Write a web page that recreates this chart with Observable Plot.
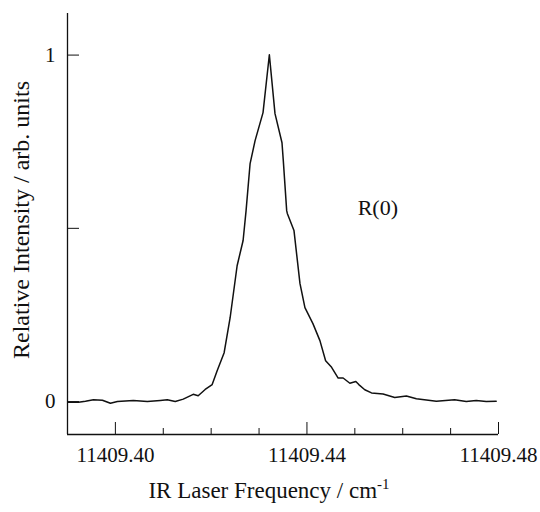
<!DOCTYPE html>
<html>
<head>
<meta charset="utf-8">
<script src="https://cdn.jsdelivr.net/npm/d3@7"></script>
<script src="https://cdn.jsdelivr.net/npm/@observablehq/plot@0.6"></script>
<style>
  html, body { margin: 0; padding: 0; background: #fff; }
  #chart { width: 540px; height: 512px; }
</style>
</head>
<body>
<div id="chart"></div>
<script>
// ---- data ----
const frequency = [
  11409.39006, 11409.39229, 11409.39375, 11409.39542, 11409.39729, 11409.39896,
  11409.40042, 11409.40375, 11409.40667, 11409.40938, 11409.41083, 11409.41250,
  11409.41417, 11409.41625, 11409.41729, 11409.41875, 11409.42021, 11409.42125,
  11409.42271, 11409.42396, 11409.42542, 11409.42667, 11409.42729, 11409.42813,
  11409.42917, 11409.43083, 11409.43215, 11409.43333, 11409.43479, 11409.43506,
  11409.43577, 11409.43590, 11409.43729, 11409.43854, 11409.43958, 11409.44125,
  11409.44271, 11409.44390, 11409.44515, 11409.44652, 11409.44756, 11409.44896,
  11409.45021, 11409.45083, 11409.45208, 11409.45348, 11409.45590, 11409.45833,
  11409.46077, 11409.46285, 11409.46702, 11409.47083, 11409.47327, 11409.47535,
  11409.47744, 11409.47952
];
const intensity = [
  -0.002, -0.002, 0.001, 0.005, 0.004, -0.005,
  0.000, 0.003, 0.000, 0.003, 0.005, 0.000,
  0.007, 0.021, 0.017, 0.035, 0.049, 0.089,
  0.141, 0.242, 0.392, 0.465, 0.551, 0.687,
  0.753, 0.834, 1.001, 0.831, 0.747, 0.696,
  0.551, 0.543, 0.494, 0.341, 0.271, 0.225,
  0.176, 0.118, 0.099, 0.068, 0.068, 0.053,
  0.058, 0.049, 0.034, 0.025, 0.022, 0.012,
  0.016, 0.008, 0.001, 0.005, 0.000, 0.003,
  0.000, 0.001
];
const xDomain = [11409.39, 11409.48];
const yDomain = [-0.095, 1.12];
const xMajorTicks = [11409.40, 11409.44, 11409.48];
const xMinorTicks = [11409.41, 11409.42, 11409.43, 11409.45, 11409.46, 11409.47];
const xTickLabels = ["11409.40", "11409.44", "11409.48"];
const yTicks = [0, 0.5, 1];
const yTickLabelValues = [0, 1];
const yTickLabels = ["0", "1"];
const annotation = [{f: 11409.4548, v: 0.56, text: "R(0)"}];
const xLabel = "IR Laser Frequency / cm";
const xLabelSup = "-1";
const yLabel = "Relative Intensity / arb. units";

const data = frequency.map((f, i) => ({f, v: intensity[i]}));
const FONT = "'Liberation Serif', 'Times New Roman', serif";

const plot = Plot.plot({
  width: 540,
  height: 512,
  marginLeft: 67,
  marginRight: 42,
  marginTop: 13,
  marginBottom: 78,
  style: {fontFamily: FONT, fontSize: "21px", color: "#111", background: "#fff"},
  x: {domain: xDomain},
  y: {domain: yDomain},
  marks: [
    Plot.ruleX([xDomain[0]], {stroke: "#111", strokeWidth: 1.3}),
    Plot.ruleY([yDomain[0]], {stroke: "#111", strokeWidth: 1.3}),
    // x ticks (inward)
    Plot.axisX({ticks: xMajorTicks, tickSize: -12, tickFormat: null, text: null, label: null, stroke: "#111"}),
    Plot.axisX({ticks: xMinorTicks, tickSize: -6, tickFormat: null, text: null, label: null, stroke: "#111"}),
    Plot.axisX({ticks: xMajorTicks, tickSize: 0, tickPadding: 13, tickFormat: (d, i) => xTickLabels[i], label: null, fontSize: 21}),
    // y ticks (inward)
    Plot.axisY({ticks: yTicks, tickSize: -12, text: null, label: null, stroke: "#111"}),
    Plot.axisY({ticks: yTickLabelValues, tickSize: 0, tickPadding: 12, tickFormat: (d, i) => yTickLabels[i], label: null, fontSize: 21}),
    Plot.line(data, {x: "f", y: "v", stroke: "#111", strokeWidth: 1.5, curve: "linear"}),
    Plot.text(annotation, {x: "f", y: "v", text: "text", fontSize: 22, fill: "#111"})
  ]
});

document.getElementById("chart").appendChild(plot);

// axis titles (with superscript)
const svg = d3.select(plot);
const xt = svg.append("text")
  .attr("x", 269).attr("y", 498)
  .attr("text-anchor", "middle")
  .style("font-family", FONT).style("font-size", "23px").attr("fill", "#111");
xt.append("tspan").text(xLabel);
xt.append("tspan").attr("dy", -9).style("font-size", "15px").text(xLabelSup);

svg.append("text")
  .attr("transform", "translate(29,220) rotate(-90)")
  .attr("text-anchor", "middle")
  .style("font-family", FONT).style("font-size", "24px").attr("fill", "#111")
  .text(yLabel);
</script>
</body>
</html>
